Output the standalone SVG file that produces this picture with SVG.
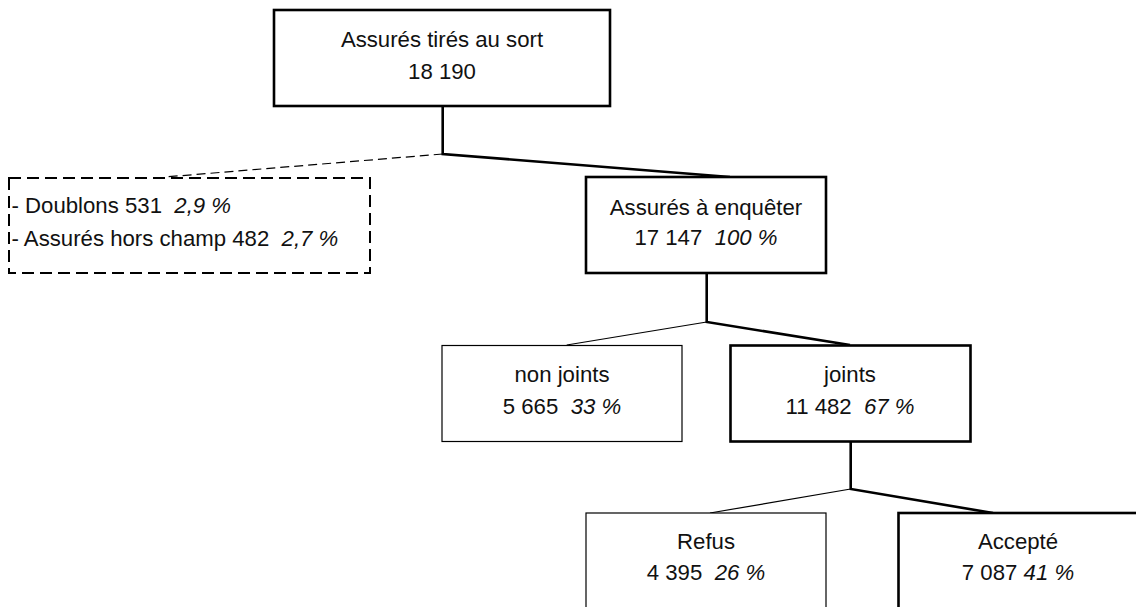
<svg xmlns="http://www.w3.org/2000/svg" width="1136" height="607" viewBox="0 0 1136 607">
<style>
text{font-family:"Liberation Sans",Arial,sans-serif;font-size:22.2px;fill:#111;white-space:pre}
.c{text-anchor:middle}
.i{font-style:italic}
.thick{fill:#fff;stroke:#000;stroke-width:2.6}
.thin{fill:#fff;stroke:#000;stroke-width:1.2}
.dash{fill:#fff;stroke:#000;stroke-width:2;stroke-dasharray:12 6}
.lt{fill:none;stroke:#000;stroke-width:2.6}
.ln{fill:none;stroke:#000;stroke-width:1.2}
.ld{fill:none;stroke:#000;stroke-width:1.2;stroke-dasharray:9 5}
</style>
<rect width="1136" height="607" fill="#fff"/>
<g id="connectors">
<polyline class="lt" points="442.7,106 442.7,154 730,177"/>
<line class="ld" x1="442.7" y1="154" x2="165" y2="177"/>
<polyline class="lt" points="706.7,273 706.7,322 850,345"/>
<line class="ln" x1="706.7" y1="322" x2="566.7" y2="345"/>
<polyline class="lt" points="850.7,441 850.7,489 993,513"/>
<line class="ln" x1="850.7" y1="489" x2="710" y2="513"/>
</g>
<g id="tires">
<rect class="thick" x="274" y="10" width="336" height="96"/>
<text class="c" x="442" y="47">Assurés tirés au sort</text>
<text class="c" x="442" y="79">18 190</text>
</g>
<g id="exclus">
<rect class="dash" x="9" y="178" width="361" height="95"/>
<text x="11.5" y="213">- Doublons 531  <tspan class="i">2,9 %</tspan></text>
<text x="11.5" y="246">- Assurés hors champ 482  <tspan class="i">2,7 %</tspan></text>
</g>
<g id="enqueter">
<rect class="thick" x="586" y="177" width="240" height="96"/>
<text class="c" x="706" y="215">Assurés à enquêter</text>
<text class="c" x="706" y="245">17 147  <tspan class="i">100 %</tspan></text>
</g>
<g id="nonjoints">
<rect class="thin" x="442" y="345.5" width="240" height="96"/>
<text class="c" x="562" y="381.5">non joints</text>
<text class="c" x="562" y="414">5 665  <tspan class="i">33 %</tspan></text>
</g>
<g id="joints">
<rect class="thick" x="730.5" y="345.5" width="240" height="96"/>
<text class="c" x="850" y="381.5">joints</text>
<text class="c" x="850" y="413.5">11 482  <tspan class="i">67 %</tspan></text>
</g>
<g id="refus">
<rect class="thin" x="586" y="513" width="240" height="96"/>
<text class="c" x="706" y="549">Refus</text>
<text class="c" x="706" y="580">4 395  <tspan class="i">26 %</tspan></text>
</g>
<g id="accepte">
<rect class="thick" x="898.5" y="513" width="240" height="96"/>
<text class="c" x="1018" y="549">Accepté</text>
<text class="c" x="1018" y="580">7 087 <tspan class="i">41 %</tspan></text>
</g>
</svg>
